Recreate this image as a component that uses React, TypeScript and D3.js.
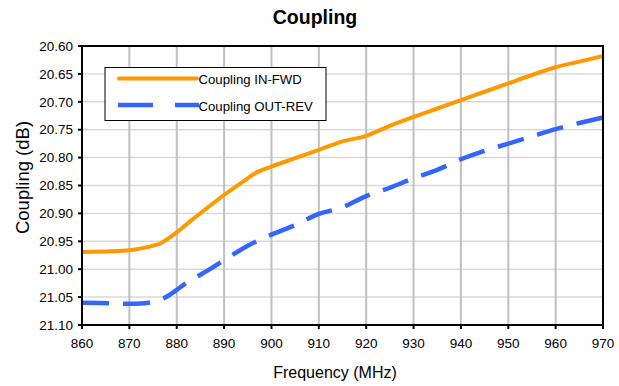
import React from "react";
import * as d3 from "d3";

const freqFwd = [860, 866, 870, 874, 876.5, 878, 880, 883, 886, 890, 894, 897, 900, 905, 910, 915, 920, 925, 930, 935, 940, 945, 950, 955, 960, 965, 970];
const couplingFwd = [20.969, 20.968, 20.966, 20.96, 20.954, 20.946, 20.934, 20.913, 20.893, 20.867, 20.843, 20.826, 20.816, 20.801, 20.786, 20.771, 20.761, 20.743, 20.727, 20.712, 20.697, 20.682, 20.667, 20.652, 20.638, 20.628, 20.618];

const freqRev = [860, 866, 870, 874, 876.5, 878.5, 882, 887, 890, 895, 900, 905, 910, 915, 920, 925, 930, 935, 940, 945, 950, 955, 960, 965, 970];
const couplingRev = [21.06, 21.061, 21.062, 21.06, 21.055, 21.046, 21.025, 21.0, 20.984, 20.958, 20.938, 20.921, 20.901, 20.889, 20.869, 20.854, 20.837, 20.822, 20.803, 20.788, 20.775, 20.762, 20.749, 20.738, 20.728];

const xTicks = [860, 870, 880, 890, 900, 910, 920, 930, 940, 950, 960, 970];
const yTicks = [20.6, 20.65, 20.7, 20.75, 20.8, 20.85, 20.9, 20.95, 21.0, 21.05, 21.1];

const seriesNames = ["Coupling IN-FWD", "Coupling OUT-REV"];
const title = "Coupling";
const xTitle = "Frequency (MHz)";
const yTitle = "Coupling (dB)";

export default function App() {
  const W = 619, H = 386;
  const L = 82, R = 603, T = 46, B = 325;
  const x = d3.scaleLinear().domain([860, 970]).range([L, R]);
  const y = d3.scaleLinear().domain([20.6, 21.1]).range([T, B]);
  const line = d3.line<[number, number]>().x(d => x(d[0])).y(d => y(d[1])).curve(d3.curveCatmullRom.alpha(0.5));
  const fwd = line(freqFwd.map((f, i) => [f, couplingFwd[i]]) as [number, number][]) || "";
  const rev = line(freqRev.map((f, i) => [f, couplingRev[i]]) as [number, number][]) || "";
  const font = "Arial, 'Liberation Sans', sans-serif";
  return (
    <svg width={W} height={H} style={{ position: "absolute", left: 0, top: 0, background: "#fff" }} fontFamily={font}>
      <rect x={0} y={0} width={W} height={H} fill="#fff" />
      <text x={315} y={24} textAnchor="middle" fontSize={19.5} fontWeight="bold">{title}</text>
      {yTicks.map(t => (
        <line key={"h" + t} x1={L} x2={R} y1={y(t)} y2={y(t)} stroke="#d9d9d9" strokeWidth={1.5} />
      ))}
      {xTicks.map(t => (
        <line key={"v" + t} x1={x(t)} x2={x(t)} y1={T} y2={B} stroke="#c0c0c0" strokeWidth={2} />
      ))}
      <path d={fwd} fill="none" stroke="#ff9900" strokeWidth={4} strokeLinejoin="round" />
      <path d={rev} fill="none" stroke="#3366ff" strokeWidth={4.5} strokeDasharray="27,14" />
      <rect x={L} y={T} width={R - L} height={B - T} fill="none" stroke="#000" strokeWidth={2} />
      {yTicks.map(t => (
        <g key={"yt" + t}>
          <line x1={L - 4} x2={L} y1={y(t)} y2={y(t)} stroke="#000" strokeWidth={2} />
          <text x={73} y={y(t) + 4.7} textAnchor="end" fontSize={13.5}>{t.toFixed(2)}</text>
        </g>
      ))}
      {xTicks.map(t => (
        <g key={"xt" + t}>
          <line x1={x(t)} x2={x(t)} y1={B} y2={B + 4} stroke="#000" strokeWidth={2} />
          <text x={x(t)} y={B + 23} textAnchor="middle" fontSize={13.5}>{t}</text>
        </g>
      ))}
      <text x={335} y={377.5} textAnchor="middle" fontSize={16}>{xTitle}</text>
      <text transform={`translate(29, 177.5) rotate(-90)`} textAnchor="middle" fontSize={18.5}>{yTitle}</text>
      <rect x={105} y={67.5} width={221} height={53} fill="#fff" stroke="#000" strokeWidth={1} />
      <line x1={119} x2={197} y1={78.5} y2={78.5} stroke="#ff9900" strokeWidth={4} strokeLinecap="round" />
      <text x={198.5} y={84} fontSize={13.2}>{seriesNames[0]}</text>
      <line x1={118} x2={199} y1={105} y2={105} stroke="#3366ff" strokeWidth={4.5} strokeDasharray="35,22" />
      <text x={198.5} y={110.5} fontSize={13.2}>{seriesNames[1]}</text>
    </svg>
  );
}
